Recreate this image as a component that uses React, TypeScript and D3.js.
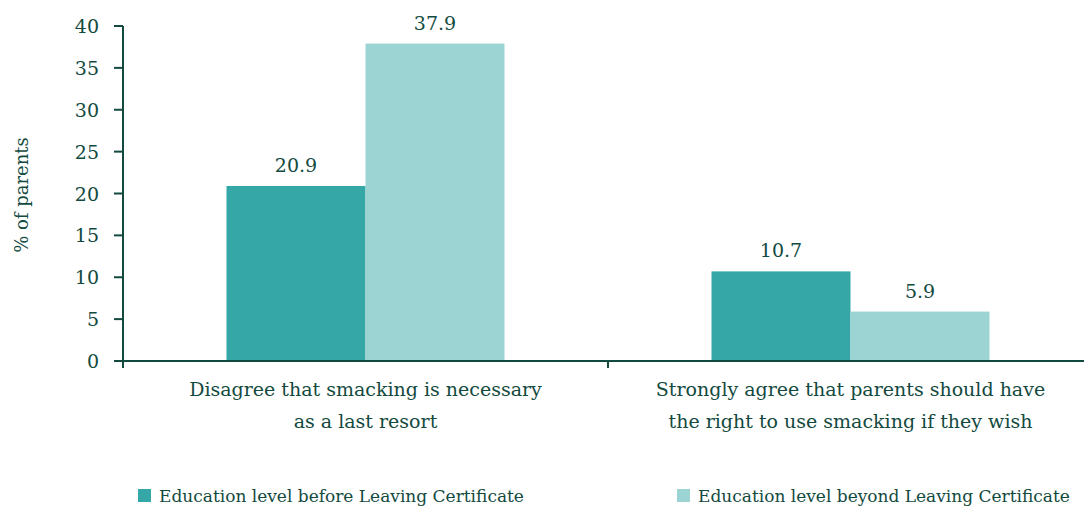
import React from "react";
import * as d3 from "d3";

const categories = [
  ["Disagree that smacking is necessary", "as a last resort"],
  ["Strongly agree that parents should have", "the right to use smacking if they wish"],
];
const seriesNames = ["Education level before Leaving Certificate", "Education level beyond Leaving Certificate"];
const beforeLC = [20.9, 10.7];
const beyondLC = [37.9, 5.9];
const yTicks = [0, 5, 10, 15, 20, 25, 30, 35, 40];

const colors = ["#35a7a7", "#9cd3d3"];
const ink = "#134a40";
const font = "'DejaVu Serif', serif";

export default function App() {
  const W = 1084, H = 508;
  const x0 = 123;
  const x = d3.scaleBand<number>().domain([0, 1]).range([x0, x0 + 970]).paddingInner(0).paddingOuter(0);
  const y = d3.scaleLinear().domain([0, 40]).range([361, 26]);
  const barW = 139;
  const series = [beforeLC, beyondLC];

  return (
    <svg width={W} height={H} style={{ position: "absolute", left: 0, top: 0 }} fontFamily={font}>
      {series.map((vals, si) =>
        vals.map((v, ci) => {
          const cx = x(ci)! + x.bandwidth() / 2;
          const bx = si === 0 ? cx - barW : cx;
          return (
            <g key={`${si}-${ci}`}>
              <rect x={bx} y={y(v)} width={barW} height={y(0) - y(v)} fill={colors[si]} />
              <text x={bx + barW / 2} y={y(v) - 14} textAnchor="middle" fontSize={19} fill={ink}>
                {v.toFixed(1)}
              </text>
            </g>
          );
        })
      )}
      {/* y axis */}
      <line x1={x0} x2={x0} y1={y(40)} y2={368} stroke={ink} strokeWidth={2} />
      {yTicks.map((t) => (
        <g key={t}>
          <line x1={114} x2={x0} y1={y(t)} y2={y(t)} stroke={ink} strokeWidth={2} />
          <text x={99} y={y(t) + 7} textAnchor="end" fontSize={19} fill={ink}>
            {t}
          </text>
        </g>
      ))}
      {/* x axis */}
      <line x1={114} x2={W} y1={y(0)} y2={y(0)} stroke={ink} strokeWidth={2} />
      {[1].map((i) => (
        <line key={i} x1={x(i)!} x2={x(i)!} y1={y(0)} y2={368} stroke={ink} strokeWidth={2} />
      ))}
      {categories.map((lines, ci) => (
        <text key={ci} x={x(ci)! + x.bandwidth() / 2} textAnchor="middle" fontSize={19} fill={ink}>
          {lines.map((l, li) => (
            <tspan key={li} x={x(ci)! + x.bandwidth() / 2} y={396 + li * 32}>
              {l}
            </tspan>
          ))}
        </text>
      ))}
      <text transform={`translate(28,195) rotate(-90)`} textAnchor="middle" fontSize={18} fill={ink}>
        % of parents
      </text>
      {/* legend */}
      {seriesNames.map((n, i) => {
        const lx = i === 0 ? 138 : 677;
        return (
          <g key={n}>
            <rect x={lx} y={489} width={13} height={13} fill={colors[i]} />
            <text x={lx + 21} y={502} fontSize={17} fill={ink}>
              {n}
            </text>
          </g>
        );
      })}
    </svg>
  );
}
